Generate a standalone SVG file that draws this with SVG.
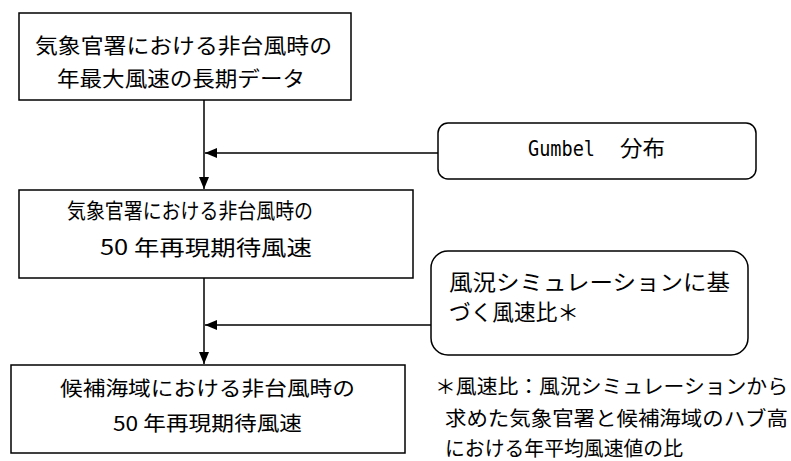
<svg xmlns="http://www.w3.org/2000/svg" width="791" height="461" viewBox="0 0 791 461">
<style>
.box{fill:#fff;stroke:#000;stroke-width:1.5}
.t{font-family:"Noto Sans CJK JP","Noto Sans",sans-serif;fill:#000}
.mono{font-family:"DejaVu Sans Mono","Liberation Mono",monospace}
.ln{stroke:#000;stroke-width:1.5;fill:none}
</style>
<defs>
<marker id="ah" markerUnits="userSpaceOnUse" markerWidth="12" markerHeight="10" refX="12" refY="5" orient="auto">
<path d="M0,0 L12,5 L0,10 Z" fill="#000"/>
</marker>
</defs>
<rect width="791" height="461" fill="#fff"/>
<g id="connectors">
<line class="ln" x1="204" y1="100" x2="204" y2="189" marker-end="url(#ah)"/>
<line class="ln" x1="438" y1="153" x2="205" y2="153" marker-end="url(#ah)"/>
<line class="ln" x1="204" y1="278" x2="204" y2="364" marker-end="url(#ah)"/>
<line class="ln" x1="431" y1="325" x2="205" y2="325" marker-end="url(#ah)"/>
</g>
<g id="node1">
<rect class="box" x="19" y="13" width="332" height="87"/>
<text class="t" font-size="21" x="35" y="53" textLength="297" lengthAdjust="spacingAndGlyphs">気象官署における非台風時の</text>
<text class="t" font-size="21" x="57" y="86" textLength="248" lengthAdjust="spacingAndGlyphs">年最大風速の長期データ</text>
</g>
<g id="gumbel">
<rect class="box" x="438" y="123" width="318" height="56" rx="10"/>
<text class="mono" font-size="21" x="528" y="156" textLength="67" lengthAdjust="spacingAndGlyphs">Gumbel</text>
<text class="t" font-size="22" x="620" y="156" textLength="45" lengthAdjust="spacingAndGlyphs">分布</text>
</g>
<g id="node2">
<rect class="box" x="19" y="190" width="394" height="88"/>
<text class="t" font-size="21" x="67" y="218" textLength="246" lengthAdjust="spacingAndGlyphs">気象官署における非台風時の</text>
<text class="t" font-size="21" x="100" y="255" textLength="212" lengthAdjust="spacingAndGlyphs">50 年再現期待風速</text>
</g>
<g id="ratio">
<rect class="box" x="431" y="251" width="317" height="104" rx="17"/>
<text class="t" font-size="22" x="449" y="290" textLength="281" lengthAdjust="spacingAndGlyphs">風況シミュレーションに基</text>
<text class="t" font-size="22" x="449" y="320" textLength="130" lengthAdjust="spacingAndGlyphs">づく風速比＊</text>
</g>
<g id="node3">
<rect class="box" x="11" y="365" width="394" height="88"/>
<text class="t" font-size="20.5" x="60" y="396" textLength="295" lengthAdjust="spacingAndGlyphs">候補海域における非台風時の</text>
<text class="t" font-size="20.5" x="113" y="431" textLength="189" lengthAdjust="spacingAndGlyphs">50 年再現期待風速</text>
</g>
<g id="footnote">
<text class="t" font-size="20" x="435" y="394" textLength="353" lengthAdjust="spacingAndGlyphs">＊風速比：風況シミュレーションから</text>
<text class="t" font-size="20" x="445" y="426" textLength="343" lengthAdjust="spacingAndGlyphs">求めた気象官署と候補海域のハブ高</text>
<text class="t" font-size="20" x="445" y="456" textLength="238" lengthAdjust="spacingAndGlyphs">における年平均風速値の比</text>
</g>
</svg>
